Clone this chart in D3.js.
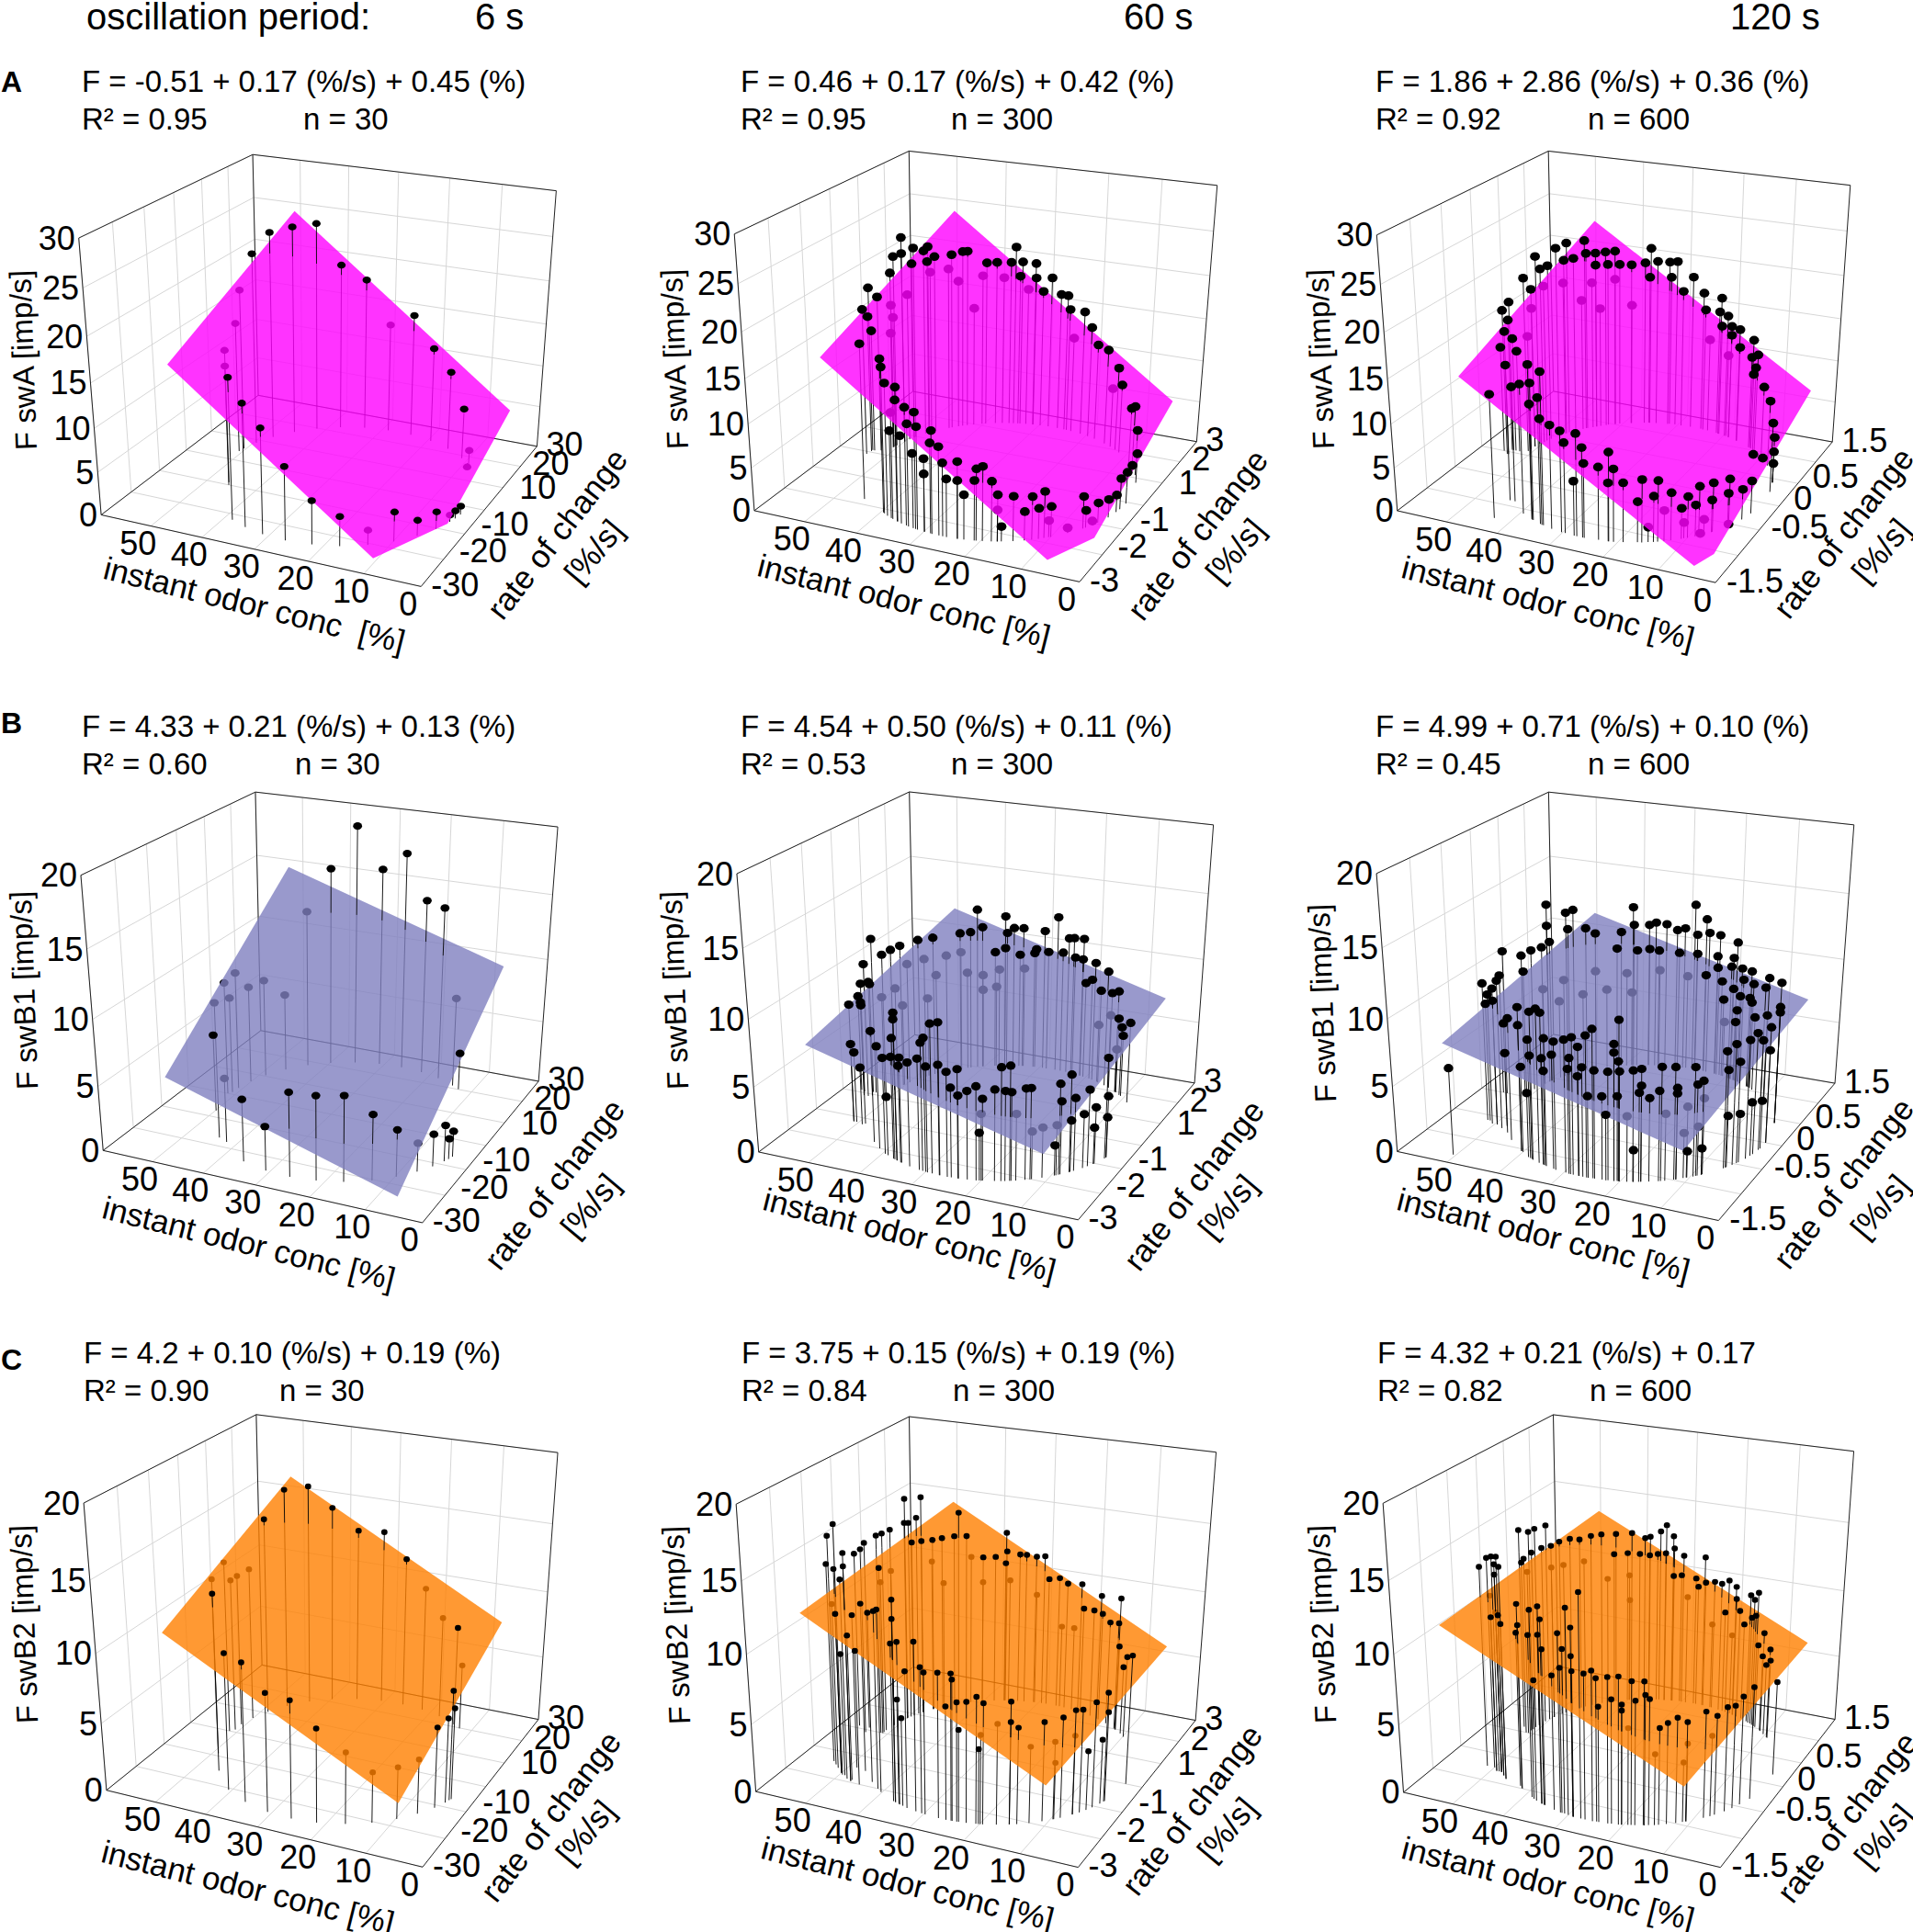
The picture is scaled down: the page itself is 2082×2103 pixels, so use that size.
<!DOCTYPE html>
<html><head><meta charset="utf-8"><title>Regression planes</title>
<script src="https://cdn.jsdelivr.net/npm/d3@7"></script>
<style>body{margin:0;background:#fff}svg{display:block;font-family:"Liberation Sans",Arial,sans-serif}</style></head>
<body><div id="chart"></div><script>
const width = 2082, height = 2103;

// ticks
const concTicks = [0, 10, 20, 30, 40, 50];
const rateTicks30 = [-30, -20, -10, 0, 10, 20, 30];
const rateTicks3 = [-3, -2, -1, 0, 1, 2, 3];
const rateTicks15 = [-1.5, -1, -0.5, 0, 0.5, 1, 1.5];
const rateLabels30 = [-30, -20, -10, 10, 20, 30];
const rateLabels3 = [-3, -2, -1, 1, 2, 3];
const rateLabels15 = [-1.5, -0.5, 0, 0.5, 1.5];
const fTicks30 = [0, 5, 10, 15, 20, 25, 30];
const fTicks20 = [0, 5, 10, 15, 20];

const periods = ["6 s", "60 s", "120 s"];
const rowNames = ["A", "B", "C"];

// fit text
const fitsA = ["F = -0.51 + 0.17 (%/s) + 0.45 (%)", "F = 0.46 + 0.17 (%/s) + 0.42 (%)", "F = 1.86 + 2.86 (%/s) + 0.36 (%)"];
const fitsB = ["F = 4.33 + 0.21 (%/s) + 0.13 (%)", "F = 4.54 + 0.50 (%/s) + 0.11 (%)", "F = 4.99 + 0.71 (%/s) + 0.10 (%)"];
const fitsC = ["F = 4.2 + 0.10 (%/s) + 0.19 (%)", "F = 3.75 + 0.15 (%/s) + 0.19 (%)", "F = 4.32 + 0.21 (%/s) + 0.17"];
const r2A = ["R² = 0.95", "R² = 0.95", "R² = 0.92"];
const r2B = ["R² = 0.60", "R² = 0.53", "R² = 0.45"];
const r2C = ["R² = 0.90", "R² = 0.84", "R² = 0.82"];
const nValues = ["n = 30", "n = 300", "n = 600"];

// plane vertices and points: [conc %, rate %/s, F imp/s]
const planeA1 = [[46.8,-27,17.7],[49.8,27,24.6],[4.9,27,4.7],[4,-7.6,0],[10.7,-24.6,0]];
const aboveA1 = [[49.5,8.7,22.7],[47.8,12.5,24.6],[45.1,16.4,24.8],[41.8,19.7,24.9],[37.9,22.3,20],[33.5,24.1,18.3],[24,24.8,14.8],[19.4,23.7,11.5],[15.1,21.7,9.5],[11.2,18.8,6.1],[38.4,-22,16.1],[35.1,-23.5,14],[31.2,-24.6,12],[26.7,-25,8.4],[22,-24.4,5],[17.5,-23,3.4],[9.9,-17.6,3.4],[7.1,-14,1.8],[5.1,-10.3,2],[3.2,-3.4,1],[3.5,-5.2,0.9]];
const belowA1 = [[28.8,24.9,13.2],[9,16.5,1.8],[9.5,17.2,-0.5],[50.4,5.3,19.1],[50.7,3.9,15.5],[46,-9,15.5],[45.5,-10,14],[13.4,-20.6,1.7],[3.9,-6.8,0.8]];

const planeA2 = [[47.3,-2.7,17.9],[49.1,2.7,24.2],[4.3,2.7,5.3],[3.3,-1.5,0],[7.4,-2.54,0]];
const aboveA2 = [[53.6,0.1,19.4],[53.8,-0.1,17.3],[53.6,0.05,16.2],[53.2,0.1,14.5],[52.1,0.15,18.4],[50.7,0.39,20.8],[50.5,0.48,22.5],[50,0.7,24.3],[50,0.7,22.5],[49.1,0.99,22.7],[49.2,0.94,21],[48.1,1.2,22.1],[47.6,1.27,22.5],[47.7,1.26,20.8],[46.9,1.4,21.2],[44.8,1.68,21.1],[43.3,1.84,21.3],[42.6,1.9,21.3],[39.7,2.12,19.8],[38.1,2.22,19.8],[35.7,2.33,19.8],[34.9,2.36,21.6],[33.7,2.4,19.9],[31.3,2.46,19.8],[34.1,2.39,18.2],[31.2,2.46,18.1],[28.2,2.5,18.3],[29.8,2.48,16.6],[26.3,2.5,16.5],[24.9,2.49,16.5],[24.4,2.49,14.9],[21.3,2.43,15],[19.6,2.38,13.4],[18,2.32,11.6],[15.5,2.19,11.5],[12.7,2.01,10],[11.6,1.92,8.3],[8.4,1.58,6.6],[7.1,1.39,7.4],[5.5,1.11,5.4],[4.3,0.81,3.5],[7,1.38,0.3],[45,-1.8,17.7],[39.5,-2.13,17.3],[39.2,-2.15,16.5],[38.3,-2.21,15],[35.7,-2.33,15.1],[35.8,-2.33,13.7],[33.7,-2.4,13.3],[31.7,-2.45,13.1],[33.2,-2.42,11.6],[31.3,-2.46,11.6],[28.4,-2.5,11.6],[28.7,-2.49,10.2],[27.1,-2.5,10],[32.2,-2.44,8.5],[29.9,-2.48,8.3],[26.4,-2.5,8.3],[23.8,-2.48,8.7],[37.3,-2.26,10],[34.8,-2.37,10],[29.9,-2.48,6.6],[25.7,-2.5,6.6],[23.8,-2.48,6.6],[20.7,-2.41,8.1],[19.7,-2.38,8.4],[21,-2.42,6.8],[18.3,-2.33,6.8],[22.7,-2.46,5.1],[17.4,-2.29,5.3],[15.1,-2.17,5.1],[12.5,-1.99,4.9],[10.9,-1.85,5.3],[6.3,-1.26,3.7],[13.5,-2.07,3.3],[11.6,-1.92,3.5],[10,-1.77,3.5],[6,-1.21,2],[4.8,-0.95,2.3],[3.9,-0.69,2.1],[3.4,-0.44,2],[3.2,-0.31,3.6],[3,-0.06,3.7],[16.8,-2.26,1.7]];
const belowA2 = [[45.2,1.63,19.5],[43.9,1.78,17.9],[41.6,1.98,14.5],[40.3,2.08,18.3],[36.9,2.28,18],[32.6,2.43,16.7],[23.4,2.47,11.6],[14,2.1,7.2],[50.7,0.4,17.1],[49.6,0.83,17.6],[50.6,0.45,15.6],[50.7,0.37,13.9],[47.4,1.32,19.5],[10.3,-1.79,1.9],[8,-1.52,0.6],[5.3,-1.08,0.5],[17.4,-2.29,3.6],[36.9,-2.28,12.1]];

const planeA3 = [[47.8,-1.36,15.9],[48.9,1.36,23],[4,1.36,6.6],[3.8,-1.06,0],[5.2,-1.32,0]];
const aboveA3 = [[53.6,0.05,17.8],[53.9,-0.05,17.2],[53.9,0.05,15.7],[53.6,-0.05,14.8],[53.1,0.05,13.6],[55.1,0,12.6],[52.3,0.05,12.2],[50.9,0.09,20.6],[50.7,0.21,18.9],[50.4,0.28,22.4],[50.1,0.34,20.8],[49.5,0.43,20.9],[48.8,0.53,22.6],[47.7,0.64,22.9],[48,0.61,21],[46.9,0.7,21],[45.6,0.8,22.8],[45.4,0.81,21.3],[44.1,0.88,21.2],[42.7,0.95,21.2],[41.3,1.01,21.2],[44.1,0.88,19.8],[42.4,0.97,19.7],[40.6,1.04,19.6],[38.7,1.1,19.5],[36.4,1.16,19.7],[35.4,1.18,21.4],[34.2,1.2,19.9],[32,1.23,19.9],[30.6,1.25,20],[35.6,1.18,18],[31.7,1.24,18.1],[27.4,1.26,18.4],[29.3,1.25,16.6],[25.2,1.26,16.7],[21.3,1.22,16.6],[24.7,1.25,14.8],[21.7,1.23,14.9],[19.8,1.2,14.7],[21.1,1.22,13.3],[18.9,1.19,13.6],[16.9,1.14,13.6],[13.4,1.04,13.1],[18.8,1.18,12.6],[16.8,1.14,11.5],[12.1,0.99,11.7],[13.7,1.05,11],[12.5,1,10.1],[13.1,1.03,9.1],[9.9,0.88,8.6],[7.6,0.74,7.8],[3.4,0.23,8.1],[4.3,0.42,5.4],[4.3,0.42,3.7],[4.3,0.42,2.3],[9.4,0.86,0.1],[12.3,1,-0.5],[37.1,-1.14,17.3],[34.2,-1.2,17.1],[44,-0.9,15.5],[39.4,-1.08,14.7],[36.7,-1.15,15.4],[43,-0.9,13.2],[34.9,-1.19,14.2],[36.9,-1.15,13.1],[34.5,-1.2,12],[32.3,-1.23,11.7],[30.2,-1.25,11.4],[27.2,-1.26,11.5],[29.5,-1.25,10.2],[26.1,-1.26,10.1],[21.5,-1.23,10],[25.8,-1.26,8.4],[23.3,-1.24,8.2],[20.7,-1.22,8.2],[21.6,-1.23,6.6],[19.2,-1.19,6.7],[27.7,-1.26,6.2],[16.3,-1.13,7.1],[14,-1.06,6.9],[17,-1.14,4.6],[14.6,-1.08,5.2],[12.2,-0.99,5.4],[10,-0.89,4.7],[8.6,-0.81,5.6],[7,-0.7,5.6],[5.3,-0.54,5.4],[10.8,-0.93,3.5],[9,-0.84,3.6],[7.1,-0.71,3.7],[5.4,-0.55,3.8],[4.1,-0.38,3.5],[3.5,-0.24,3.8],[43.2,-1.26,14]];
const belowA3 = [[50.7,0.21,16.7],[50.9,0.14,13.7],[49.9,0.38,18.7],[46,0.77,15.9],[43.5,0.91,14.6],[38.6,1.1,14.7],[23.7,1.25,11.3],[19.5,1.2,10],[48.1,0.6,18.4],[44.6,0.85,17.8],[41.3,1.01,17.9],[13.1,-1.03,3.5],[8,-0.77,1.7],[5.3,-0.54,0.2],[15.4,-1.1,1.7],[8.4,-0.8,0.2],[10.5,-0.91,1.8]];

const planeB1 = [[48.4,-27,6.1],[51.6,27,14.8],[7.4,27,9.4],[5.6,-27,0.8]];
const aboveB1 = [[35.6,23.3,19.1],[26.4,25,17.3],[39.9,21.1,15.9],[31,24.7,15.9],[22,24.5,14],[18,23.2,13.8],[12.7,20.1,3],[49.9,-7.5,6.1],[35.8,-23.3,4.8],[30.8,-24.7,3.4],[26.1,-25,6.4],[21.5,-24.3,6.4],[17.1,-22.8,6.5],[13,-20.3,5],[9.8,-17.4,3.6],[5.6,-11.3,2.5],[4.5,-8.7,2.8],[3.8,-6.5,2],[4.1,-7.6,1.6]];
const belowB1 = [[43.5,18.2,12.7],[14.3,21.2,7.2],[46.5,14.5,6.3],[48.8,10.4,7.9],[50.1,6.7,7.8],[50.8,3,9.4],[51.5,0,9],[51,0.9,7.7],[44,-17,10.4],[42,-18,5],[7.3,-14.2,2.2]];

const planeB2 = [[51.1,-2.7,8.3],[49.2,2.7,11.7],[5.8,2.7,7],[7.5,-2.7,3.6]];
const aboveB2 = [[53.4,0.1,12.2],[54,-0.1,10.5],[51,0.05,11.2],[50.8,0.35,11.2],[50.3,0.62,11.2],[48.8,1.05,11.2],[47.2,1.35,11.1],[43.7,1.79,11.1],[42.2,1.93,11.1],[41.2,2.02,12.8],[40.4,2.08,11.4],[36.6,2.29,12.2],[36.3,2.31,10.9],[35.1,2.35,11.3],[33.4,2.41,11.3],[29.4,2.49,11.2],[26.8,2.5,12.4],[24.5,2.49,10.9],[23.4,2.47,11],[21.3,2.43,11.1],[38.3,2.2,9.4],[36.6,2.29,9.7],[34,2.39,9.2],[31,2.47,9.7],[28.6,2.49,9.6],[25.7,2.5,9.7],[23.1,2.47,9.5],[21.4,2.43,9.5],[18.5,2.34,9.5],[15.4,2.19,9.2],[19.2,2.37,8.1],[20.6,2.41,7.7],[17,2.27,7.5],[12.5,1.99,8.1],[14.2,2.11,7.7],[12.2,1.97,6],[8.7,1.62,6.4],[11.2,1.88,5.5],[10.8,1.85,4.9],[31.3,2.46,9.4],[56.5,0.1,7.6],[54.9,-0.1,7.5],[55.6,0.05,8.7],[54,0.1,8.7],[53.4,-0.05,9.1],[51,-1.2,9.1],[48.6,-1.2,9.2],[36.4,-2.3,11],[36.5,-2.29,10.5],[43.5,-1.81,8.5],[28.7,-2.49,11],[27.2,-2.5,11.2],[37,-2.27,9.1],[30,-2.48,9.9],[30.6,-2.47,9.5],[51,-1.2,6.1],[50.4,-1.2,5.5],[41.4,-2,7.8],[39.5,-2.15,7.3],[37.3,-2.26,7.7],[35.3,-2.34,7.9],[35.5,-2.34,7.3],[33.4,-2.41,7.8],[31.3,-2.46,8.3],[29.6,-2.49,7.9],[27.3,-2.5,8.2],[25.8,-2.5,7.8],[23.9,-2.48,8.1],[25.1,-2.49,6.7],[23.8,-2.48,6.2],[22.3,-2.45,6.6],[20.8,-2.42,7],[19.8,-2.38,6.1],[17.9,-2.31,6.8],[16.3,-2.24,6.7],[15.4,-2.19,6.6],[16.9,-2.27,8.4],[15.6,-2.2,8.5],[13.4,-2.06,6.8],[12.7,-2.01,6.8],[9,-1.65,6.8],[7.7,-1.49,7.3],[4.1,-0.75,7.6],[8.8,-1.63,5.5],[7.2,-1.41,5.5],[5.7,-1.15,5.8],[7.6,-1.47,3.9],[6.2,-1.25,4.1],[5,-1.01,4.3],[4,-0.7,4.7],[5.1,-1.03,2.8],[4,-0.7,3.1],[9.5,-1.71,2.3],[20.3,-2.4,3.6],[38.8,-2.18,4.5],[49,-1.25,4.5]];
const belowB2 = [[48.2,1.17,9.6],[49.8,0.79,9.6],[50.6,0.45,8.1],[51,0,8],[50.2,0.65,6.5],[47.9,1.23,6.4],[46.9,1.4,8.1],[42.7,1.89,7.9],[40.3,2.08,7.6],[37.6,2.24,8],[33.2,2.42,8.1],[40.3,2.08,6.4],[38.1,2.22,6.6],[45.6,1.58,9.5],[43.6,1.8,9.6],[17.3,2.29,4.7],[14.4,2.13,5.9],[12.4,1.98,3.5],[14.7,-2.15,5],[12.5,-1.99,3.6],[9.3,-1.69,3.8],[11.1,-1.87,3.8],[20,-2.39,5]];

const planeB3 = [[51.4,-1.36,8.4],[49.1,1.36,11.3],[5.4,1.36,6.9],[7.5,-1.36,3.9]];
const aboveB3 = [[49.7,0.41,14.1],[47.9,0.62,13.1],[47.1,0.69,13.2],[38.6,1.1,12.9],[27.4,1.26,13.3],[49.7,0.41,12.5],[47.7,0.64,11.8],[45.6,0.8,11.6],[44.3,0.87,11.1],[40.5,1.04,11],[38.5,1.11,11.5],[35.9,1.17,11.5],[34.7,1.19,11.7],[32.8,1.22,11.6],[30.8,1.24,11.2],[29.3,1.25,11.4],[25.1,1.26,12.3],[26.9,1.26,11],[24.4,1.25,11.3],[22.1,1.23,11.3],[18.2,1.17,11.1],[54.5,0,11.3],[51,0.03,11.1],[50.7,0.19,11.1],[50.1,0.34,11],[49.5,0.44,11.2],[55.3,0,9.4],[51,0.06,9.8],[41.2,1.02,9.7],[37.9,1.12,9.5],[35.8,1.17,9.6],[34.1,1.2,9.5],[30.4,1.25,9.4],[26.8,1.26,9.5],[22.6,1.24,9.6],[19,1.19,9.8],[22.5,1.24,8.7],[19.4,1.19,9.1],[17,1.15,9.2],[14.6,1.08,9.3],[25,1.26,7.9],[21.5,1.23,7.7],[18.8,1.18,7.4],[16.5,1.13,8.4],[14,1.06,8.4],[9.8,0.88,9.6],[4.4,0.42,10.8],[10.7,0.92,8.7],[17.2,1.15,7],[14.8,1.08,7.2],[21,1.22,6.3],[14.3,1.07,6.9],[17.8,1.16,5.8],[4.4,0.42,9],[9.9,0.88,6.7],[4.4,0.42,8.6],[13.3,1.03,5.9],[18.1,1.17,4.8],[52,-0.6,10.6],[50.5,-0.65,10],[48,-0.7,11.3],[49.5,-0.65,10.5],[51.5,-0.6,9.1],[49.5,-0.65,9.6],[47.6,-0.64,8],[44.1,-0.88,9.3],[40.4,-1.04,10.8],[37,-1.15,11],[35.5,-1.18,11.4],[34.6,-1.19,11.2],[40.4,-1.04,9.5],[20.2,-1.21,11.7],[24.6,-1.25,10.9],[25.7,-1.26,10.4],[37.7,-1.13,8.9],[33.8,-1.21,9.5],[31.7,-1.24,9.5],[29.7,-1.25,9.8],[28.2,-1.26,10.1],[27.1,-1.26,9.5],[21,-1.22,10],[21,-1.22,9.4],[20.3,-1.21,8.8],[46.2,-0.76,6.2],[40,-1.05,6.5],[37.3,-1.14,7.8],[34.4,-1.2,8],[32.2,-1.23,8.5],[34.1,-1.2,7.1],[28.7,-1.26,8.6],[29,-1.26,7.8],[26.4,-1.26,8.1],[24.3,-1.25,8],[27.2,-1.26,7.4],[22,-1.23,8],[20.1,-1.21,8.1],[18,-1.17,8.2],[16.8,-1.14,8.3],[13.9,-1.06,8.4],[12.1,-0.99,8.3],[9.6,-0.87,8.1],[8.6,-0.81,7],[5.9,-0.6,7.3],[4.8,-0.48,7.6],[50.5,-1.35,6.6],[25.4,-1.26,6.1],[23,-1.24,6.2],[20.5,-1.21,6.3],[17.1,-1.15,6.6],[15.6,-1.11,6.2],[14.2,-1.07,6.7],[11.8,-0.98,6.8],[9.3,-0.85,6.8],[16.8,-1.14,7.1],[11.8,-0.98,6.4],[22.3,-1.24,4.9],[17.9,-1.17,2.4],[10.4,-0.91,2],[8.6,-0.81,2],[38.2,-1.12,4.9],[5.8,-0.59,3.9],[4.6,-0.46,3.7],[3.7,-0.3,4.1],[3.1,-0.13,3.7],[3,0,8.8],[3.5,-0.26,9.1],[4,-0.37,8.9],[3.2,-0.16,8.3],[5.2,-0.53,9],[6.1,-0.62,8.7],[3,0,7.1]];
const belowB3 = [[48.2,0.59,7.9],[44.3,0.87,8.1],[39.6,1.07,7.7],[34,1.21,7.9],[50.1,0.35,7.7],[48.7,0.54,6.3],[46,0.77,6.4],[42.7,0.95,6.5],[38.8,1.1,6.1],[20.7,1.22,4.5],[28.7,1.26,7.6],[18.9,-1.19,4.9],[13.3,-1.04,5],[10.5,-0.91,5.3],[8.5,-0.8,5.7],[10.9,-0.93,3.4],[9.1,-0.84,3.7]];

const planeC1 = [[48.6,-27,11.8],[51.3,27,16.1],[7.5,27,7.6],[5.7,-27,3.4]];
const aboveC1 = [[48.7,10.6,14.9],[46.5,14.6,16.7],[43.4,18.3,16.7],[39.8,21.2,15],[35.4,23.4,13.3],[30.7,24.7,13.3],[26.2,25,11.5],[14,21,7.6],[45.6,-15,13],[40.6,-20.6,10],[35.9,-23.2,10.1],[30.8,-24.7,8.6],[26.1,-25,8.5],[21.6,-24.4,6.8],[5.4,-11,5.9],[4.4,-8.5,6.2],[3.9,-6.9,6.7],[4.1,-7.4,8]];
const belowC1 = [[21.9,24.4,9.6],[17.8,23.1,7.8],[12.4,19.8,5],[50.1,6.9,11.6],[50.8,3.5,11.5],[50.8,1,11.5],[51.5,0,12.9],[49,-9,13],[17,-22.7,5.2],[13.1,-20.4,3.7],[9.8,-17.4,3.8],[7.3,-14.2,4]];

const planeC2 = [[51.1,-2.7,13],[49.3,2.7,14.4],[5.6,2.7,5.9],[7.1,-2.7,4.5]];
const aboveC2 = [[52.5,-1.5,16.6],[56.5,0.1,13.2],[54.4,0.1,14.1],[54.1,-0.1,13.9],[51.4,0,14.9],[51,0.14,14.9],[50.7,0.39,14.9],[49.8,0.79,16.7],[48.3,1.14,16.5],[49.8,0.77,15],[49.5,0.87,14.9],[48.8,1.05,15.1],[43.8,1.78,14.9],[51,0,12.6],[49.2,0.94,13.4],[48.3,1.15,13.3],[47.1,1.36,13.2],[46,1.53,13.2],[44.4,1.72,13.2],[42.7,1.89,13.1],[40.2,2.09,11.4],[38.2,2.21,11.4],[36.3,2.31,11.8],[36.4,2.3,13.2],[36.5,2.3,10.9],[34,2.39,11.6],[32.8,2.42,11.6],[31,2.47,11.5],[29.4,2.49,11.6],[28.5,2.5,9.9],[26.4,2.5,10.1],[24.7,2.49,9.8],[21.7,2.44,10],[17.2,2.28,9.6],[21.1,2.42,8.2],[18.8,2.35,8.3],[16.8,2.26,8.3],[12.4,1.98,10.1],[14.9,2.16,7.9],[12.7,2.01,8.2],[12.3,1.98,6.5],[9.9,1.75,6.2],[3,0,9.4],[10.9,1.86,5.2],[53.5,-1.4,14.5],[50,-1.75,14.8],[47,-1.95,16.3],[47,-1.95,15.4],[49.5,-1.8,17.9],[43.4,-1.82,12.3],[40.2,-2.09,13.1],[36.2,-2.31,14.3],[36.3,-2.3,13],[46.5,-1.5,12.3],[48.5,-1.45,11.3],[41.3,-2,12.8],[36.7,-2.29,11.3],[35.2,-2.35,11.6],[31.6,-2.45,12],[50,-1.75,11.7],[49,-1.8,9],[47,-1.9,10.6],[45,-2,9.8],[33.5,-2.41,9.8],[30.4,-2.47,10.4],[29.7,-2.48,10.1],[27.1,-2.5,10.3],[24.8,-2.49,10.4],[24.6,-2.49,10],[25.7,-2.5,8.1],[23.8,-2.48,8.5],[22.2,-2.45,8.6],[20.6,-2.41,9],[19.5,-2.38,8.6],[15.5,-2.19,8.7],[23.5,-2.47,6.6],[35.4,-2.34,7.6],[34.5,-2.37,6.4],[20.2,-2.4,5.4],[15.5,-2.19,7.3],[14.4,-2.13,6.9],[11,-1.86,7.1],[8.7,-1.62,7.2],[7.3,-1.43,7.5],[6.5,-1.31,7.4],[5.2,-1.05,7.6],[4.2,-0.77,7.9],[4.5,-0.87,4.7],[5.8,-1.18,4.3],[4.1,-0.75,6.5]];
const belowC2 = [[51,0.05,11.5],[50.7,0.4,11.9],[47.2,1.35,11.6],[42,1.95,11.5],[40.2,2.09,9.5],[35.7,2.33,9.6],[30.8,2.47,8.6],[25.7,2.5,6.4],[23.1,2.47,6.5],[45.8,1.55,9.8],[48,-1.9,14.4],[51.5,-1.6,12.1],[17.4,-2.29,7.2],[12.7,-2.01,5.5],[9.6,-1.72,5.6],[7.3,-1.42,5.7],[9.5,-1.71,4.1],[19.9,-2.39,6.4]];

const planeC3 = [[52.5,-1.36,12.1],[49,1.36,13.6],[5.5,1.36,6.1],[7.8,-1.36,4.4]];
const aboveC3 = [[53,0.1,14.9],[50.9,0.09,14.9],[50.7,0.19,14.9],[50.1,0.35,14.8],[51.5,0,12.9],[51,0,13.2],[50.9,0.14,13.3],[50.4,0.29,13.3],[49.7,0.41,13.2],[49,0.51,13.3],[47.9,0.62,13.3],[46.8,0.71,13.1],[45.4,0.81,13.2],[44,0.89,13.2],[41.9,0.99,13.1],[39.4,1.08,13.1],[37.2,1.14,12.7],[36.3,1.16,12.8],[33.4,1.21,13.7],[34.5,1.2,13.2],[32.1,1.23,12.9],[42.2,0.98,11.6],[40.1,1.06,11.6],[38.1,1.12,11.5],[36.4,1.16,11.4],[35,1.19,11.5],[33.5,1.21,11.6],[31.9,1.23,12],[30.1,1.25,11.5],[25.8,1.26,11.6],[32,1.23,9.9],[30.5,1.25,10],[27.6,1.26,9.9],[27.1,1.26,9.3],[25.6,1.26,9.7],[23.7,1.25,9.9],[22.1,1.23,9.9],[20.5,1.21,10.3],[18.8,1.18,10],[18.7,1.18,9.1],[15.3,1.1,9.8],[13.3,1.03,10.3],[14.3,1.07,9.6],[21.2,1.22,7.8],[17.8,1.16,8.3],[14.8,1.08,8.2],[13.8,1.05,8.5],[16.7,1.14,7.4],[11.4,0.96,7.6],[12.9,1.02,6.4],[9.4,0.86,6.8],[11.6,0.97,5.8],[10.4,0.91,5.4],[9.2,0.85,6],[3.2,0.18,6.9],[51.5,-0.75,14.5],[50,-0.75,15.2],[48.5,-0.8,15.5],[47,-0.85,15.7],[48,-0.8,15],[46,-0.9,15.2],[48,-0.8,14.3],[41.8,-0.99,13.2],[38,-1.12,13.4],[35.9,-1.17,13.9],[35.4,-1.18,13.1],[41.6,-1,11.8],[47,-0.85,11.7],[49,-0.8,11.3],[46,-0.9,11.3],[42.4,-0.96,11.1],[38.6,-1.1,11.6],[36,-1.17,12],[35.2,-1.18,11.1],[30,-1.25,14.4],[29,-1.26,13.2],[27.5,-1.26,15.6],[31.6,-1.24,12.6],[30.8,-1.24,11.6],[29,-1.26,11.3],[33,-1.22,9.6],[31.3,-1.24,10.3],[28.9,-1.26,10.3],[26.7,-1.26,10.3],[25.3,-1.26,10.6],[24.6,-1.25,10.1],[22.6,-1.24,10.3],[20.8,-1.22,10.4],[18.8,-1.18,10.1],[16.9,-1.14,10.1],[16.7,-1.14,9.2],[16.1,-1.12,8.9],[18.2,-1.17,8.8],[24.2,-1.25,8.2],[22,-1.23,8.8],[20.3,-1.21,8.5],[20.3,-1.21,8.1],[13.5,-1.04,7.2],[12.2,-0.99,7.5],[10.9,-0.93,7.1],[8.6,-0.81,7.6],[7.3,-0.72,7.1],[6.2,-0.63,7.5],[5.4,-0.55,7.4],[4.7,-0.46,7.8],[3.8,-0.33,8.1],[14.6,-1.08,6.9],[37.3,-1.14,8.7]];
const belowC3 = [[51,0.06,12.1],[49.7,0.41,11.6],[46.3,0.75,11.4],[43.1,0.93,9.8],[39.8,1.07,9.9],[39.7,1.07,8],[29.2,1.25,8.4],[24,1.25,6.6],[19.5,1.2,6.2],[48.6,0.55,11.5],[49,-0.8,12.8],[48,-0.8,11.7],[19.3,-1.19,6.9],[15.2,-1.1,5.1],[10.8,-0.93,5.6],[7.8,-0.76,5.8],[11.3,-0.95,4.3]];

const magenta = "#ff00ff", slate = "#7f7fbf", orange = "#ff7f00";

// screen layout: box corners, dot size and axis title centres
const panels = [
  {row:0,col:0,fMax:30,rates:rateTicks30,labels:rateLabels30,color:magenta,plane:planeA1,above:aboveA1,below:belowA1,dot:[4.6,3.8],fName:"F swA [imp/s]",xName:"instant odor conc\u00a0 [%]",corners:[[85,259],[111,560],[458,639],[585,485],[280,431],[276,168],[605,208]],yT:[25,392],xT:[277,658],rT:[606,581],r2:[646,600]},
  {row:0,col:1,fMax:30,rates:rateTicks3,labels:rateLabels3,color:magenta,plane:planeA2,above:aboveA2,below:belowA2,dot:[5.4,4.8],fName:"F swA [imp/s]",corners:[[798,255],[822,555],[1175,634],[1303,480],[992,427],[991,164],[1324,202]],yT:[734,391],xT:[984,654],rT:[1303,582],r2:[1344,599]},
  {row:0,col:2,fMax:30,rates:rateTicks15,labels:rateLabels15,color:magenta,plane:planeA3,above:aboveA3,below:belowA3,dot:[5.4,4.8],fName:"F swA [imp/s]",corners:[[1497,256],[1522,555],[1867,635],[1995,480],[1689,427],[1687,164],[2013,202]],yT:[1437,391],xT:[1685,656],rT:[2006,580],r2:[2047,599]},
  {row:1,col:0,fMax:20,rates:rateTicks30,labels:rateLabels30,color:slate,plane:planeB1,above:aboveB1,below:belowB1,dot:[4.9,4.1],fName:"F swB1 [imp/s]",corners:[[88,953],[112,1252],[460,1331],[586,1177],[284,1122],[278,862],[607,900]],yT:[26,1078],xT:[271,1353],rT:[603,1289],r2:[642,1312]},
  {row:1,col:1,fMax:20,rates:rateTicks3,labels:rateLabels3,color:slate,plane:planeB2,above:aboveB2,below:belowB2,dot:[5.2,4.6],fName:"F swB1 [imp/s]",corners:[[801,951],[827,1252],[1173,1330],[1301,1176],[994,1129],[991,861],[1320,899]],yT:[734,1078],xT:[990,1344],rT:[1299,1290],r2:[1336,1313]},
  {row:1,col:2,fMax:20,rates:rateTicks15,labels:rateLabels15,color:slate,plane:planeB3,above:aboveB3,below:belowB3,dot:[5.2,4.6],fName:"F swB1 [imp/s]",corners:[[1497,951],[1522,1251],[1870,1331],[1998,1176],[1689,1129],[1687,861],[2017,899]],yT:[1439,1092],xT:[1680,1344],rT:[2006,1288],r2:[2046,1313]},
  {row:2,col:0,fMax:20,rates:rateTicks30,labels:rateLabels30,color:orange,plane:planeC1,above:aboveC1,below:belowC1,dot:[3.4,3.2],fName:"F swB2 [imp/s]",corners:[[91,1636],[116,1949],[460,2032],[586,1872],[285,1812],[279,1540],[607,1581]],yT:[26,1768],xT:[270,2054],rT:[599,1977],r2:[637,1994]},
  {row:2,col:1,fMax:20,rates:rateTicks3,labels:rateLabels3,color:orange,plane:planeC2,above:aboveC2,below:belowC2,dot:[3.4,3.2],fName:"F swB2 [imp/s]",corners:[[800,1637],[824,1950],[1173,2033],[1302,1872],[992,1815],[991,1542],[1323,1581]],yT:[736,1769],xT:[988,2050],rT:[1297,1970],r2:[1335,1991]},
  {row:2,col:2,fMax:20,rates:rateTicks15,labels:rateLabels15,color:orange,plane:planeC3,above:aboveC3,below:belowC3,dot:[3.4,3.2],fName:"F swB2 [imp/s]",corners:[[1504,1636],[1529,1951],[1872,2033],[1998,1871],[1694,1814],[1692,1540],[2017,1580]],yT:[1439,1768],xT:[1685,2050],rT:[2010,1978],r2:[2050,1998]}
];

// the unit cube corners that go with panel.corners
const unitCorners = [[1,0,1],[1,0,0],[0,0,0],[0,1,0],[1,1,0],[1,1,1],[0,1,1]];

function gauss(A, b) {
  const n = b.length, M = A.map((r, i) => [...r, b[i]]);
  for (let i = 0; i < n; i++) {
    let p = i;
    for (let k = i + 1; k < n; k++) if (Math.abs(M[k][i]) > Math.abs(M[p][i])) p = k;
    [M[i], M[p]] = [M[p], M[i]];
    for (let k = 0; k < n; k++) {
      if (k === i) continue;
      const f = M[k][i] / M[i][i];
      for (let j = i; j <= n; j++) M[k][j] -= f * M[i][j];
    }
  }
  return M.map((r, i) => r[n] / r[i]);
}

// perspective camera fitted to the box corners (least squares)
function fitCamera(pts) {
  const rows = [], rhs = [];
  pts.forEach((q, i) => {
    const [X, Y, Z] = unitCorners[i], u = q[0] / 1000, v = q[1] / 1000;
    rows.push([X, Y, Z, 1, 0, 0, 0, 0, -u * X, -u * Y, -u * Z]); rhs.push(u);
    rows.push([0, 0, 0, 0, X, Y, Z, 1, -v * X, -v * Y, -v * Z]); rhs.push(v);
  });
  const idx = d3.range(11);
  return gauss(idx.map(i => idx.map(j => d3.sum(rows, r => r[i] * r[j]))), idx.map(i => d3.sum(rows, (r, k) => r[i] * rhs[k])));
}

const svg = d3.select("#chart").append("svg").attr("width", width).attr("height", height);
const conc = d3.scaleLinear().domain([0, 60]).range([0, 1]);

const rateDx = {6: [11, 17, 18, 18, 13, 10], 5: [12, 13, 16, 16, 10]};
const rateDy = {6: [-2, -9, -11, 0, -3, -2], 5: [-2, -3, -8, -8, -2]};

function text(g, x, y, t, size, anchor, rot) {
  const e = g.append("text").attr("x", x).attr("y", y).attr("font-size", size)
    .attr("text-anchor", anchor || "middle").attr("dominant-baseline", "central").text(t);
  if (rot) e.attr("transform", `rotate(${rot} ${x} ${y})`);
  return e;
}

panels.forEach(p => {
  const h = fitCamera(p.corners), R = p.rates[p.rates.length - 1], F = p.fMax;
  const rate = d3.scaleLinear().domain([-R, R]).range([0, 1]);
  const fs = d3.scaleLinear().domain([0, F]).range([0, 1]);
  const pt = (c, r, f) => {
    const X = conc(c), Y = rate(r), Z = fs(f), w = h[8] * X + h[9] * Y + h[10] * Z + 1;
    return [1000 * (h[0] * X + h[1] * Y + h[2] * Z + h[3]) / w, 1000 * (h[4] * X + h[5] * Y + h[6] * Z + h[7]) / w];
  };
  const g = svg.append("g");
  const line = (a, b, col, w) => g.append("line").attr("x1", a[0]).attr("y1", a[1]).attr("x2", b[0]).attr("y2", b[1]).attr("stroke", col).attr("stroke-width", w);
  const fTicks = F === 30 ? fTicks30 : fTicks20, grid = "#d6d6d6", edge = "#222";

  p.rates.forEach(r => { line(pt(0, r, 0), pt(60, r, 0), grid, 1); line(pt(60, r, 0), pt(60, r, F), grid, 1); });
  concTicks.slice(1).forEach(c => { line(pt(c, -R, 0), pt(c, R, 0), grid, 1); line(pt(c, R, 0), pt(c, R, F), grid, 1); });
  fTicks.forEach(f => { line(pt(60, -R, f), pt(60, R, f), grid, 1); line(pt(60, R, f), pt(0, R, f), grid, 1); });
  [[[60,-R,0],[0,-R,0]],[[0,-R,0],[0,R,0]],[[0,R,0],[60,R,0]],[[60,R,0],[60,-R,0]],[[60,-R,0],[60,-R,F]],[[60,-R,F],[60,R,F]],[[60,R,F],[0,R,F]],[[0,R,F],[0,R,0]],[[60,R,F],[60,R,0]]]
    .forEach(e => line(pt(...e[0]), pt(...e[1]), edge, 1));

  // height of the fitted plane, from its first three vertices
  const v = p.plane.slice(0, 3), m = gauss(v.map(d => [1, d[1], d[0]]), v.map(d => d[2]));
  const planeZ = (c, r) => Math.max(0, m[0] + m[1] * r + m[2] * c);
  const dot = d => { const q = pt(d[0], d[1], d[2]); g.append("ellipse").attr("cx", q[0]).attr("cy", q[1]).attr("rx", p.dot[0]).attr("ry", p.dot[1]); };
  const stem = (d, a, b) => line(pt(d[0], d[1], a), pt(d[0], d[1], b), "#000", 0.9);

  p.below.forEach(d => { stem(d, 0, d[2]); dot(d); });
  p.above.forEach(d => stem(d, 0, Math.min(d[2], planeZ(d[0], d[1]))));
  g.append("path").attr("d", "M" + p.plane.map(d => pt(...d).join(",")).join("L") + "Z").attr("fill", p.color).attr("fill-opacity", 0.8);
  p.above.forEach(d => { const z = planeZ(d[0], d[1]); if (d[2] > z) stem(d, z, d[2]); });
  p.above.forEach(dot);

  fTicks.forEach(f => { const q = pt(60, -R, f); text(g, q[0] - 4, q[1], f, 36, "end"); });
  concTicks.forEach(c => { const q = pt(c, -R, 0); text(g, q[0] - 14, q[1] + 19, c, 36); });
  const dx = rateDx[p.labels.length], dy = rateDy[p.labels.length];
  p.labels.forEach((r, i) => { const q = pt(0, r, 0); text(g, q[0] + dx[i], q[1] + dy[i], r, 36, "start"); });

  text(g, p.yT[0], p.yT[1], p.fName, 33, "middle", -92);
  text(g, p.xT[0], p.xT[1], p.xName || "instant odor conc [%]", 35, "middle", 14);
  text(g, p.rT[0], p.rT[1], "rate of change", 35, "middle", -52);
  text(g, p.r2[0], p.r2[1], "[%/s]", 35, "middle", -50);
});

// header and fit text
const head = svg.append("g");
const plain = (x, y, t, size, weight) => head.append("text").attr("x", x).attr("y", y).attr("font-size", size).attr("font-weight", weight || null).text(t);
plain(94, 32, "oscillation period:", 40);
[517, 1223, 1883].forEach((x, i) => plain(x, 32, periods[i], 40));
const rowBase = [[100, 141], [802, 843], [1484, 1525]], letterBase = [100, 798, 1491];
const fitX = [[89, 806, 1497], [89, 806, 1497], [91, 807, 1499]], nX = [[330, 1035, 1728], [321, 1035, 1728], [304, 1037, 1730]];
[fitsA, fitsB, fitsC].forEach((fits, row) => {
  plain(1, letterBase[row], rowNames[row], 32, "bold");
  const r2 = [r2A, r2B, r2C][row];
  fits.forEach((t, c) => {
    plain(fitX[row][c], rowBase[row][0], t, 33);
    plain(fitX[row][c], rowBase[row][1], r2[c], 33);
    plain(nX[row][c], rowBase[row][1], nValues[c], 33);
  });
});
</script></body></html>
